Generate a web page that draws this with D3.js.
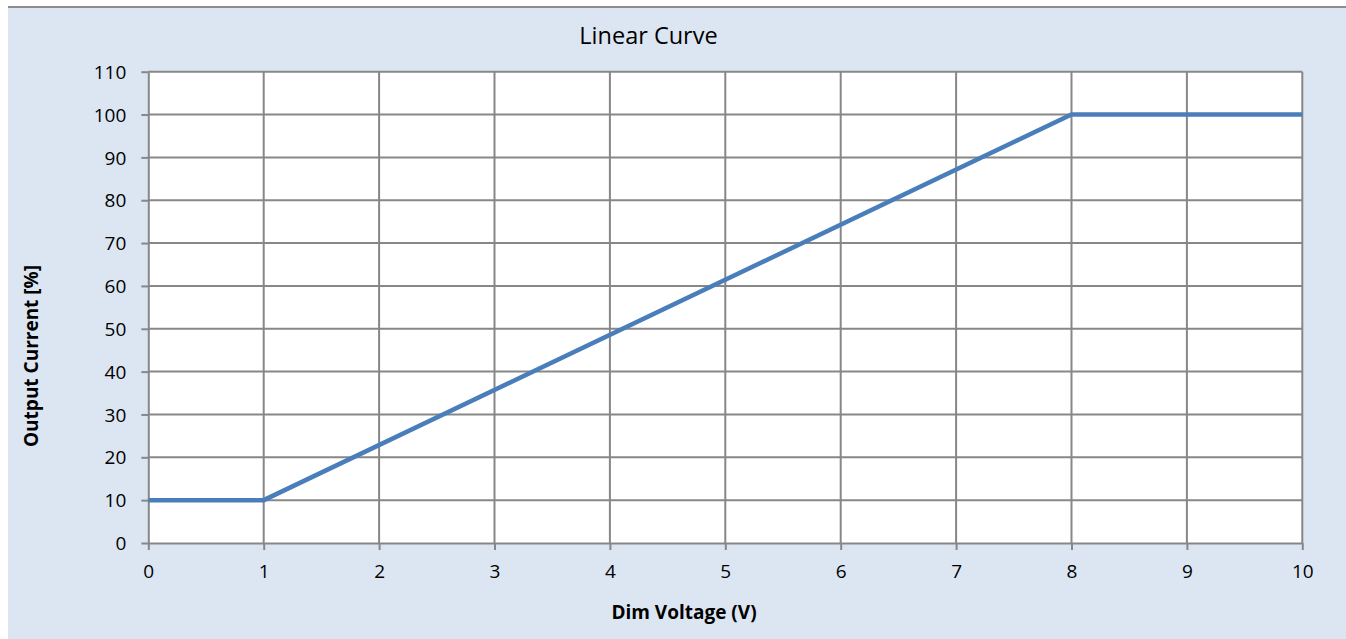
<!DOCTYPE html>
<html>
<head>
<meta charset="utf-8">
<script src="https://cdn.jsdelivr.net/npm/d3@7"></script>
<style>
  html, body { margin: 0; padding: 0; background: #ffffff; }
  svg { display: block; }
  text { font-family: "Open Sans", "Noto Sans", sans-serif; fill: #000; }
</style>
</head>
<body>
<svg id="chart" width="1346" height="639"></svg>
<script>
// ---- data ----
const chartTitle = "Linear Curve";
const xTitle = "Dim Voltage (V)";
const yTitle = "Output Current [%]";
const dimVoltage = [0, 1, 8, 10];
const outputCurrent = [10, 10, 100, 100];
const xTicks = [0, 1, 2, 3, 4, 5, 6, 7, 8, 9, 10];
const yTicks = [0, 10, 20, 30, 40, 50, 60, 70, 80, 90, 100, 110];

// ---- layout ----
const W = 1346, H = 639;
const plot = { left: 148.3, right: 1302.3, top: 71.7, bottom: 543 };
const gridColor = "#878787";

const svg = d3.select("#chart");

// chart background
svg.append("rect").attr("x", 8).attr("y", 7).attr("width", W - 8).attr("height", H - 7).attr("fill", "#DCE6F2");
svg.append("line").attr("x1", 8).attr("x2", W).attr("y1", 7).attr("y2", 7)
  .attr("stroke", "#8C8C8C").attr("stroke-width", 2);

const x = d3.scaleLinear().domain([0, 10]).range([plot.left, plot.right]);
const y = d3.scaleLinear().domain([0, 110]).range([plot.bottom, plot.top]);

// plot area
svg.append("rect").attr("x", plot.left).attr("y", plot.top)
  .attr("width", plot.right - plot.left).attr("height", plot.bottom - plot.top)
  .attr("fill", "#ffffff");

// grid lines
const grid = svg.append("g");
grid.selectAll("line.h").data(yTicks.filter(d => d > 0)).join("line")
  .attr("x1", plot.left).attr("x2", plot.right)
  .attr("y1", d => y(d)).attr("y2", d => y(d))
  .attr("stroke", gridColor).attr("stroke-width", 2);
grid.selectAll("line.v").data(xTicks.filter(d => d > 0)).join("line")
  .attr("y1", plot.top).attr("y2", plot.bottom)
  .attr("x1", d => x(d)).attr("x2", d => x(d))
  .attr("stroke", gridColor).attr("stroke-width", 2);

// axes
const xAxis = svg.append("g").attr("transform", `translate(0,${plot.bottom})`)
  .call(d3.axisBottom(x).tickValues(xTicks).tickFormat(d3.format("d")).tickSize(7).tickSizeOuter(0).tickPadding(15));
const yAxis = svg.append("g").attr("transform", `translate(${plot.left},0)`)
  .call(d3.axisLeft(y).tickValues(yTicks).tickFormat(d3.format("d")).tickSize(7).tickSizeOuter(0).tickPadding(15));

[xAxis, yAxis].forEach(a => {
  a.select(".domain").attr("stroke", gridColor).attr("stroke-width", 2);
  a.selectAll(".tick line").attr("stroke", gridColor).attr("stroke-width", 2);
  a.selectAll(".tick text").attr("font-size", 19).attr("fill", "#000")
    .style("font-family", '"Open Sans", "Noto Sans", sans-serif');
});
yAxis.selectAll(".tick text").attr("dy", "0.35em");

// data line
const line = d3.line().x((d, i) => x(dimVoltage[i])).y(d => y(d));
svg.append("path").datum(outputCurrent)
  .attr("d", line).attr("fill", "none")
  .attr("stroke", "#4A7EBB").attr("stroke-width", 4.5)
  .attr("stroke-linejoin", "miter");

// titles
svg.append("text").attr("x", 648.5).attr("y", 44).attr("text-anchor", "middle")
  .attr("font-size", 23.5).text(chartTitle);
svg.append("text").attr("x", 684).attr("y", 619).attr("text-anchor", "middle")
  .attr("font-size", 19).attr("font-weight", "bold").text(xTitle);
svg.append("text").attr("transform", "translate(38,356) rotate(-90)").attr("text-anchor", "middle")
  .attr("font-size", 19).attr("font-weight", "bold").text(yTitle);
</script>
</body>
</html>
